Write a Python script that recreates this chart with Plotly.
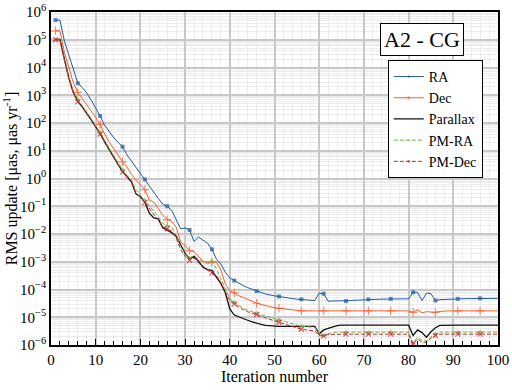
import plotly.graph_objects as go

# iteration numbers
iterations = list(range(1, 101))

# RMS updates (uas, uas/yr)
ra = [5.1e5, 5.1e5, 8.9e4, 2.8e4, 7.6e3, 2.7e3, 1.9e3, 1.2e3, 6.6e2, 3.5e2,
      1.8e2, 83, 48, 30, 20, 14, 7.1, 4.2, 2.5, 1.5,
      0.93, 0.52, 0.32, 0.19, 0.12, 0.10, 0.071, 0.035, 0.0155, 0.0166,
      0.014, 0.0054, 0.0078, 0.006, 0.0047, 0.0028, 1.26e-3, 8.3e-4, 4.2e-4, 2.6e-4,
      2.1e-4, 1.66e-4, 1.38e-4, 1.17e-4, 1.0e-4, 8.7e-5, 7.8e-5, 6.9e-5, 6.3e-5, 5.9e-5,
      5.6e-5, 5.2e-5, 4.9e-5, 4.7e-5, 4.5e-5, 4.4e-5, 4.2e-5, 4.1e-5, 4.0e-5, 7.4e-5,
      7.1e-5, 3.8e-5, 3.8e-5, 3.8e-5, 3.8e-5, 3.8e-5, 4.0e-5, 4.1e-5, 4.2e-5, 4.3e-5,
      4.4e-5, 4.5e-5, 4.5e-5, 4.5e-5, 4.5e-5, 4.6e-5, 4.6e-5, 4.6e-5, 4.6e-5, 4.6e-5,
      7.9e-5, 7.9e-5, 4.0e-5, 7.4e-5, 7.1e-5, 4.0e-5, 4.3e-5, 4.4e-5, 4.4e-5, 4.5e-5,
      4.6e-5, 4.6e-5, 4.7e-5, 4.7e-5, 4.7e-5, 4.8e-5, 4.8e-5, 4.8e-5, 4.8e-5, 4.8e-5]

dec = [2.1e5, 2.1e5, 3.5e4, 1.07e4, 2.8e3, 1.26e3, 7.6e2, 4.6e2, 2.8e2, 1.6e2,
       89, 40, 21, 12, 6.9, 4.0, 2.6, 1.4, 0.87, 0.60,
       0.40, 0.166, 0.141, 0.083, 0.047, 0.033, 0.028, 0.0178, 0.0051, 0.0039,
       0.0025, 0.0023, 0.0016, 1.05e-3, 8.5e-4, 9.8e-4, 1.0e-3, 5.0e-4, 1.58e-4, 8.9e-5,
       7.6e-5, 6.0e-5, 5.2e-5, 4.4e-5, 3.7e-5, 3.2e-5, 2.9e-5, 2.6e-5, 2.4e-5, 2.2e-5,
       2.1e-5, 2.0e-5, 1.95e-5, 1.86e-5, 1.78e-5, 1.7e-5, 1.7e-5, 1.7e-5, 1.7e-5, 1.7e-5,
       1.7e-5, 1.7e-5, 1.7e-5, 1.7e-5, 1.7e-5, 1.7e-5, 1.7e-5, 1.7e-5, 1.7e-5, 1.7e-5,
       1.7e-5, 1.7e-5, 1.7e-5, 1.7e-5, 1.7e-5, 1.7e-5, 1.7e-5, 1.7e-5, 1.7e-5, 1.7e-5,
       1.5e-5, 1.86e-5, 1.45e-5, 1.58e-5, 1.55e-5, 1.5e-5, 1.62e-5, 1.7e-5, 1.7e-5, 1.7e-5,
       1.7e-5, 1.7e-5, 1.7e-5, 1.7e-5, 1.7e-5, 1.7e-5, 1.7e-5, 1.7e-5, 1.7e-5, 1.7e-5]

parallax = [1.02e5, 1.02e5, 2.0e4, 4.2e3, 1.26e3, 6.0e2, 3.8e2, 2.3e2, 1.3e2, 72,
            42, 21, 11, 6.0, 3.2, 1.8, 1.15, 0.76, 0.28, 0.22,
            0.14, 0.056, 0.038, 0.035, 0.0166, 0.0138, 0.0112, 0.0083, 0.004, 0.002,
            1.29e-3, 1.58e-3, 1.05e-3, 6.3e-4, 5.2e-4, 4.9e-4, 2.8e-4, 1.66e-4, 7.6e-5, 2.0e-5,
            1.2e-5, 1.02e-5, 8.7e-6, 7.8e-6, 6.8e-6, 6.0e-6, 5.5e-6, 5.1e-6, 4.9e-6, 4.7e-6,
            4.7e-6, 4.7e-6, 4.7e-6, 4.7e-6, 4.7e-6, 4.7e-6, 4.7e-6, 4.7e-6, 4.7e-6, 2.5e-6,
            3.5e-6, 4.0e-6, 4.5e-6, 5.0e-6, 5.2e-6, 5.2e-6, 5.2e-6, 5.2e-6, 5.2e-6, 5.2e-6,
            5.2e-6, 5.2e-6, 5.2e-6, 5.2e-6, 5.2e-6, 5.2e-6, 5.2e-6, 5.2e-6, 5.2e-6, 5.2e-6,
            2.2e-6, 3.5e-6, 2.8e-6, 1.9e-6, 3.0e-6, 4.2e-6, 5.1e-6, 5.2e-6, 5.2e-6, 5.2e-6,
            5.2e-6, 5.2e-6, 5.2e-6, 5.2e-6, 5.2e-6, 5.2e-6, 5.2e-6, 5.2e-6, 5.2e-6, 5.2e-6]

pm_ra = [1.0e5, 1.0e5, 1.9e4, 4.2e3, 1.4e3, 7.1e2, 4.2e2, 2.5e2, 1.45e2, 79,
         46, 24, 12.6, 6.9, 3.6, 2.1, 1.3, 0.89, 0.40, 0.26,
         0.16, 0.10, 0.066, 0.042, 0.024, 0.020, 0.018, 0.0089, 0.0035, 0.002,
         1.35e-3, 1.66e-3, 1.2e-3, 9.8e-4, 1.0e-3, 1.05e-3, 5.6e-4, 2.4e-4, 1.0e-4, 4.7e-5,
         3.5e-5, 2.7e-5, 2.1e-5, 1.8e-5, 1.55e-5, 1.38e-5, 1.23e-5, 1.1e-5, 9.8e-6, 8.9e-6,
         8.1e-6, 7.2e-6, 6.5e-6, 5.8e-6, 5.1e-6, 4.7e-6, 4.6e-6, 4.5e-6, 4.3e-6, 2.6e-6,
         2.2e-6, 2.6e-6, 2.8e-6, 2.9e-6, 2.9e-6, 2.9e-6, 2.9e-6, 2.9e-6, 2.9e-6, 2.9e-6,
         2.9e-6, 2.9e-6, 2.9e-6, 2.9e-6, 2.9e-6, 2.9e-6, 2.9e-6, 2.9e-6, 2.9e-6, 2.9e-6,
         1.17e-6, 1.9e-6, 1.48e-6, 1.38e-6, 2.0e-6, 2.5e-6, 2.9e-6, 2.9e-6, 2.9e-6, 2.9e-6,
         2.9e-6, 2.9e-6, 2.9e-6, 2.9e-6, 2.9e-6, 2.9e-6, 2.9e-6, 2.9e-6, 2.9e-6, 2.9e-6]

pm_dec = [1.0e5, 1.0e5, 1.8e4, 3.8e3, 1.2e3, 5.8e2, 3.6e2, 2.2e2, 1.26e2, 71,
          40, 20, 10.7, 5.8, 3.0, 1.74, 1.1, 0.72, 0.28, 0.22,
          0.138, 0.079, 0.05, 0.033, 0.0178, 0.0155, 0.0126, 0.0071, 0.0028, 1.58e-3,
          1.12e-3, 1.38e-3, 8.9e-4, 7.1e-4, 5.0e-4, 3.9e-4, 3.2e-4, 1.78e-4, 7.9e-5, 4.0e-5,
          3.0e-5, 2.3e-5, 1.86e-5, 1.58e-5, 1.38e-5, 1.26e-5, 1.1e-5, 9.5e-6, 8.3e-6, 7.4e-6,
          6.6e-6, 5.8e-6, 5.1e-6, 4.5e-6, 4.0e-6, 3.7e-6, 3.5e-6, 3.4e-6, 3.2e-6, 2.2e-6,
          2.1e-6, 2.4e-6, 2.45e-6, 2.45e-6, 2.45e-6, 2.45e-6, 2.45e-6, 2.45e-6, 2.45e-6, 2.45e-6,
          2.45e-6, 2.45e-6, 2.45e-6, 2.45e-6, 2.45e-6, 2.45e-6, 2.45e-6, 2.45e-6, 2.45e-6, 2.45e-6,
          1.1e-6, 1.66e-6, 1.26e-6, 1.26e-6, 1.78e-6, 2.2e-6, 2.45e-6, 2.45e-6, 2.45e-6, 2.45e-6,
          2.45e-6, 2.45e-6, 2.45e-6, 2.45e-6, 2.45e-6, 2.45e-6, 2.45e-6, 2.45e-6, 2.45e-6, 2.45e-6]

ytick_vals = [1e-6, 1e-5, 1e-4, 1e-3, 1e-2, 1e-1, 1e0, 1e1, 1e2, 1e3, 1e4, 1e5, 1e6]
ytick_text = ["10<sup>−6</sup>", "10<sup>−5</sup>", "10<sup>−4</sup>", "10<sup>−3</sup>",
              "10<sup>−2</sup>", "10<sup>−1</sup>", "10<sup>0</sup>", "10<sup>1</sup>",
              "10<sup>2</sup>", "10<sup>3</sup>", "10<sup>4</sup>", "10<sup>5</sup>",
              "10<sup>6</sup>"]

FONT = "Liberation Serif"

# markers only every 5th iteration (1, 6, 11, ...)
def msize(s):
    return [s if (i - 1) % 5 == 0 else 0 for i in iterations]

series = [
    ("RA", ra, "#1f5a9e", "solid", "square", 4, 1.0),
    ("Dec", dec, "#ff5a2a", "solid", "cross-thin", 6, 1.0),
    ("Parallax", parallax, "#111111", "solid", "circle", 0, 1.3),
    ("PM-RA", pm_ra, "#6fb43c", "4px,2px", "triangle-up", 5, 1.0),
    ("PM-Dec", pm_dec, "#d0202e", "4px,2px", "x-thin", 5, 1.0),
]

fig = go.Figure()
for name, vals, col, dash, sym, ms, lw in series:
    fig.add_trace(go.Scatter(
        x=iterations, y=vals, name=name, mode="lines+markers" if ms else "lines",
        line=dict(color=col, width=lw, dash=dash),
        marker=dict(symbol=sym, size=msize(ms), color=col,
                    line=dict(color=col, width=1.2 if "thin" in sym else 0)),
    ))

fig.update_layout(
    width=512, height=390, autosize=False,
    margin=dict(l=51, r=14, t=12, b=45, autoexpand=False),
    paper_bgcolor="white", plot_bgcolor="white",
    font=dict(family=FONT, size=15, color="black"),
    showlegend=True,
    legend=dict(x=0.966, y=0.856, xanchor="right", yanchor="top",
                bordercolor="black", borderwidth=1, bgcolor="white",
                font=dict(family=FONT, size=14, color="black"), itemwidth=30,
                tracegroupgap=0),
    annotations=[dict(text="A2 - CG", x=0.83, y=0.918, xref="paper", yref="paper",
                      xanchor="center", yanchor="middle",
                      showarrow=False, font=dict(family=FONT, size=22, color="black"),
                      bordercolor="black", borderwidth=1, borderpad=3,
                      bgcolor="white")],
)

fig.update_xaxes(
    range=[0, 100], tickvals=list(range(0, 101, 10)), automargin=False,
    showline=True, linecolor="black", linewidth=1.5, mirror=True,
    ticks="inside", ticklen=6, tickcolor="black", tickwidth=1,
    showgrid=True, gridcolor="#c8c8c8", gridwidth=1.5, zeroline=False,
    minor=dict(dtick=2, ticks="inside", ticklen=4, tickcolor="black",
               showgrid=True, gridcolor="#ececec", gridwidth=1),
    title=dict(text="Iteration number", font=dict(family=FONT, size=16, color="black"),
               standoff=3),
    tickfont=dict(family=FONT, size=15, color="black"),
)
fig.update_yaxes(
    type="log", range=[-6, 6], tickvals=ytick_vals, ticktext=ytick_text, automargin=False,
    showline=True, linecolor="black", linewidth=1.5, mirror=True,
    ticks="", showgrid=True, gridcolor="#c8c8c8", gridwidth=1.5, zeroline=False,
    minor=dict(dtick="D1", showgrid=True, gridcolor="#ececec", gridwidth=1),
    title=dict(text="RMS update [μas, μas yr<sup>-1</sup>]",
               font=dict(family=FONT, size=16, color="black"), standoff=4),
    tickfont=dict(family=FONT, size=15, color="black"),
)

# page body has an 8px default margin; drop it so the figure sits at the window corner
fig.write_html("out.html", config={"displayModeBar": False},
               post_script="document.body.style.margin='0';")
